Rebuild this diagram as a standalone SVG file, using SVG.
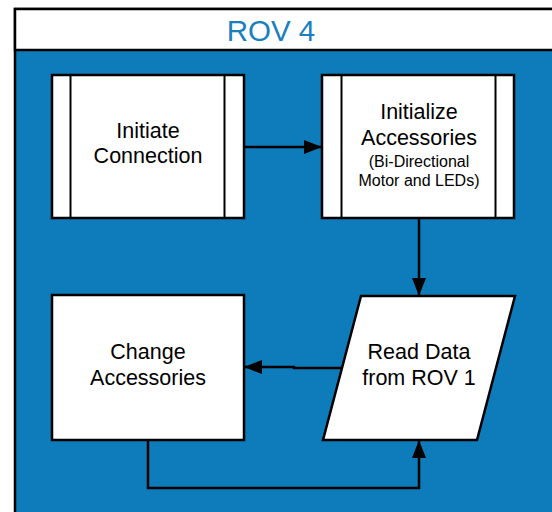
<svg xmlns="http://www.w3.org/2000/svg" width="552" height="512" viewBox="0 0 552 512">
  <style>
    .box { fill: #ffffff; stroke: #000000; stroke-width: 2.5; }
    .bar { fill: none; stroke: #000000; stroke-width: 2; }
    .lbl { font-family: "Liberation Sans", Arial, sans-serif; font-size: 21.5px; fill: #000000; text-anchor: middle; }
    .sm { font-size: 16px; }
    .wire { fill: none; stroke: #000000; stroke-width: 2.5; }
  </style>
  <defs>
    <marker id="arrow" viewBox="0 0 18 14" refX="18" refY="7" markerWidth="18" markerHeight="14" markerUnits="userSpaceOnUse" orient="auto">
      <path d="M0,0 L18,7 L0,14 Z" fill="#000000"/>
    </marker>
  </defs>

  <!-- swimlane -->
  <g id="lane">
    <rect x="15" y="9" width="560" height="520" fill="#0E7CBA" stroke="#000000" stroke-width="2.5"/>
    <rect x="15" y="9" width="560" height="41" fill="#ffffff" stroke="#000000" stroke-width="2.5"/>
    <text x="271" y="41" font-family="Liberation Sans, Arial, sans-serif" font-size="29.5" fill="#1A7FBF" text-anchor="middle">ROV 4</text>
  </g>

  <!-- connectors -->
  <g id="connectors">
    <path class="wire" d="M244,147 L322,147" marker-end="url(#arrow)"/>
    <path class="wire" d="M419,218 L419,296" marker-end="url(#arrow)"/>
    <path class="wire" d="M342,368 L294,368 L294,367 L244,367" marker-end="url(#arrow)"/>
    <path class="wire" d="M148,440 L148,488 L419,488 L419,440" marker-end="url(#arrow)"/>
  </g>

  <g id="initiate-connection">
    <rect class="box" x="52" y="75" width="192" height="143"/>
    <line class="bar" x1="70.5" y1="75" x2="70.5" y2="218"/>
    <line class="bar" x1="224.5" y1="75" x2="224.5" y2="218"/>
    <text class="lbl" x="148" y="138">Initiate</text>
    <text class="lbl" x="148" y="163">Connection</text>
  </g>

  <g id="initialize-accessories">
    <rect class="box" x="322" y="75" width="192" height="143"/>
    <line class="bar" x1="341.5" y1="75" x2="341.5" y2="218"/>
    <line class="bar" x1="495.5" y1="75" x2="495.5" y2="218"/>
    <text class="lbl" x="419" y="119">Initialize</text>
    <text class="lbl" x="419" y="145">Accessories</text>
    <text class="lbl sm" x="419" y="167">(Bi-Directional</text>
    <text class="lbl sm" x="419" y="186">Motor and LEDs)</text>
  </g>

  <g id="change-accessories">
    <rect class="box" x="52" y="295" width="192" height="145"/>
    <text class="lbl" x="148" y="359">Change</text>
    <text class="lbl" x="148" y="385">Accessories</text>
  </g>

  <g id="read-data">
    <polygon class="box" points="361,296 515,296 477,440 323,440"/>
    <text class="lbl" x="419" y="359">Read Data</text>
    <text class="lbl" x="419" y="385">from ROV 1</text>
  </g>
</svg>
